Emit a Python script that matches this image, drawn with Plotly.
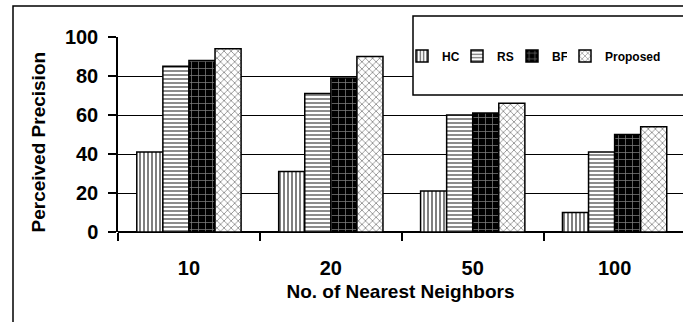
import plotly.graph_objects as go

categories = ["10", "20", "50", "100"]
hc = [41, 31, 21, 10]
rs = [85, 71, 60, 41]
bf = [88, 79, 61, 50]
proposed = [94, 90, 66, 54]
y_ticks = [0, 20, 40, 60, 80, 100]

FONT = "Arial, Liberation Sans, sans-serif"

fig = go.Figure()
series = [
    ("HC", hc, dict(shape="|", fgcolor="black", bgcolor="white", size=4, solidity=0.5), "legend"),
    ("RS", rs, dict(shape="-", fgcolor="black", bgcolor="white", size=4, solidity=0.45), "legend"),
    ("BF", bf, dict(shape="+", fgcolor="white", bgcolor="black", size=7, solidity=0.2), "legend"),
    ("Proposed", proposed, dict(shape="x", fgcolor="black", bgcolor="white", size=5, solidity=0.28), "legend2"),
]
for name, vals, pat, leg in series:
    fig.add_trace(go.Bar(
        x=categories, y=vals, name=name, legend=leg,
        marker=dict(color="white", pattern=pat, line=dict(color="black", width=1.5)),
    ))

W, H = 683, 322
L, R, T, B = 118, 0, 37, 90

def px_x(p):
    return (p - L) / (W - L - R)

def px_y(p):
    return (H - B - p) / (H - T - B)

legend_common = dict(
    orientation="h", xanchor="left", y=px_y(56), yanchor="middle",
    bgcolor="rgba(0,0,0,0)", borderwidth=0,
    font=dict(size=12, weight="bold", family=FONT),
    itemwidth=30,
)

fig.update_layout(
    width=W, height=H,
    margin=dict(l=L, r=R, t=T, b=B),
    paper_bgcolor="white", plot_bgcolor="white",
    barmode="group", bargap=0.265, bargroupgap=0,
    font=dict(family=FONT, color="black"),
    showlegend=True,
    legend=dict(x=px_x(402), entrywidth=10, **legend_common),
    legend2=dict(x=px_x(565), **legend_common),
    xaxis=dict(
        type="category", range=[-0.5, 3.482],
        tickson="boundaries", ticks="outside", ticklen=8, tickwidth=1.5, tickcolor="black",
        showline=False, showgrid=False, zeroline=False,
        tickfont=dict(size=20, weight="bold"), ticklabelstandoff=22,
        title=dict(text="No. of Nearest Neighbors", font=dict(size=19, weight="bold"), standoff=6),
    ),
    yaxis=dict(
        range=[0, 100], tickvals=y_ticks, ticks="outside", ticklen=8, tickwidth=1.5, tickcolor="black",
        showline=True, linecolor="black", linewidth=1.5,
        showgrid=True, gridcolor="black", gridwidth=1.3,
        zeroline=True, zerolinecolor="black", zerolinewidth=2,
        tickfont=dict(size=20, weight="bold"), ticklabelstandoff=6,
    ),
    shapes=[
        dict(type="rect", xref="paper", yref="paper", x0=px_x(13), x1=1.05, y0=px_y(6), y1=-0.6,
             line=dict(color="black", width=1.5), fillcolor="rgba(0,0,0,0)", layer="below"),
        dict(type="rect", xref="paper", yref="paper", x0=px_x(413), x1=1.05, y0=px_y(16), y1=px_y(95),
             line=dict(color="black", width=1.5), fillcolor="white", layer="above"),
    ],
    annotations=[
        dict(text="Perceived Precision", xref="paper", yref="paper", x=px_x(38), y=px_y(142.5),
             xanchor="center", yanchor="middle", textangle=-90, showarrow=False,
             font=dict(size=19, weight="bold", family=FONT)),
    ],
)

fig.write_html("out.html", config={"displayModeBar": False},
               post_script="document.body.style.margin='0px';")
